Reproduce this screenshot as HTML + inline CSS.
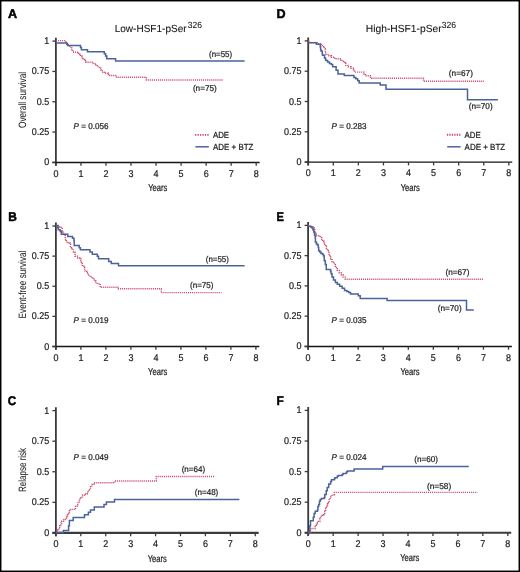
<!DOCTYPE html>
<html><head><meta charset="utf-8"><title>Figure</title>
<style>
html,body{margin:0;padding:0;background:#fff;}
body{width:520px;height:572px;overflow:hidden;}
svg{display:block;will-change:transform;}
text{font-family:"Liberation Sans", sans-serif;fill:#222;stroke:#222;stroke-width:0.22px;text-rendering:geometricPrecision;}
.tk{font-size:9.8px;}
.yr{font-size:10px;}
.pv{font-size:8.4px;}
.nl{font-size:8.4px;}
.pl{font-size:12.6px;font-weight:bold;fill:#000;stroke:#000;stroke-width:0.5px;}
.yl{font-size:10.6px;stroke-width:0.05px;}
.ti{font-size:10.3px;fill:#111;stroke-width:0.08px;}
.sup{font-size:9px;fill:#111;stroke-width:0.05px;}
.lg{font-size:8.8px;}
</style></head>
<body>
<svg width="520" height="572" viewBox="0 0 520 572">
<rect x="0" y="0" width="520" height="572" fill="#fff"/>
<line x1="55.9" y1="37.70" x2="55.9" y2="165.70" stroke="#3a3a3a" stroke-width="1.8"/>
<line x1="52.40" y1="162.4" x2="259.62" y2="162.4" stroke="#141414" stroke-width="1.45"/>
<line x1="52.40" y1="162.40" x2="55.9" y2="162.40" stroke="#3a3a3a" stroke-width="1.3"/>
<text x="49.20" y="165.40" text-anchor="end" class="tk" textLength="5.00" lengthAdjust="spacingAndGlyphs">0</text>
<line x1="52.40" y1="132.07" x2="55.9" y2="132.07" stroke="#3a3a3a" stroke-width="1.3"/>
<text x="49.20" y="135.07" text-anchor="end" class="tk" textLength="17.51" lengthAdjust="spacingAndGlyphs">0.25</text>
<line x1="52.40" y1="101.75" x2="55.9" y2="101.75" stroke="#3a3a3a" stroke-width="1.3"/>
<text x="49.20" y="104.75" text-anchor="end" class="tk" textLength="12.51" lengthAdjust="spacingAndGlyphs">0.5</text>
<line x1="52.40" y1="71.42" x2="55.9" y2="71.42" stroke="#3a3a3a" stroke-width="1.3"/>
<text x="49.20" y="74.42" text-anchor="end" class="tk" textLength="17.51" lengthAdjust="spacingAndGlyphs">0.75</text>
<line x1="52.40" y1="41.10" x2="55.9" y2="41.10" stroke="#3a3a3a" stroke-width="1.3"/>
<text x="49.20" y="44.10" text-anchor="end" class="tk" textLength="5.00" lengthAdjust="spacingAndGlyphs">1</text>
<line x1="55.90" y1="162.4" x2="55.90" y2="165.70" stroke="#3a3a3a" stroke-width="1.3"/>
<text x="55.90" y="176.60" text-anchor="middle" class="tk" textLength="5.00" lengthAdjust="spacingAndGlyphs">0</text>
<line x1="80.94" y1="162.4" x2="80.94" y2="165.70" stroke="#3a3a3a" stroke-width="1.3"/>
<text x="80.94" y="176.60" text-anchor="middle" class="tk" textLength="5.00" lengthAdjust="spacingAndGlyphs">1</text>
<line x1="105.98" y1="162.4" x2="105.98" y2="165.70" stroke="#3a3a3a" stroke-width="1.3"/>
<text x="105.98" y="176.60" text-anchor="middle" class="tk" textLength="5.00" lengthAdjust="spacingAndGlyphs">2</text>
<line x1="131.02" y1="162.4" x2="131.02" y2="165.70" stroke="#3a3a3a" stroke-width="1.3"/>
<text x="131.02" y="176.60" text-anchor="middle" class="tk" textLength="5.00" lengthAdjust="spacingAndGlyphs">3</text>
<line x1="156.06" y1="162.4" x2="156.06" y2="165.70" stroke="#3a3a3a" stroke-width="1.3"/>
<text x="156.06" y="176.60" text-anchor="middle" class="tk" textLength="5.00" lengthAdjust="spacingAndGlyphs">4</text>
<line x1="181.10" y1="162.4" x2="181.10" y2="165.70" stroke="#3a3a3a" stroke-width="1.3"/>
<text x="181.10" y="176.60" text-anchor="middle" class="tk" textLength="5.00" lengthAdjust="spacingAndGlyphs">5</text>
<line x1="206.14" y1="162.4" x2="206.14" y2="165.70" stroke="#3a3a3a" stroke-width="1.3"/>
<text x="206.14" y="176.60" text-anchor="middle" class="tk" textLength="5.00" lengthAdjust="spacingAndGlyphs">6</text>
<line x1="231.18" y1="162.4" x2="231.18" y2="165.70" stroke="#3a3a3a" stroke-width="1.3"/>
<text x="231.18" y="176.60" text-anchor="middle" class="tk" textLength="5.00" lengthAdjust="spacingAndGlyphs">7</text>
<line x1="256.22" y1="162.4" x2="256.22" y2="165.70" stroke="#3a3a3a" stroke-width="1.3"/>
<text x="256.22" y="176.60" text-anchor="middle" class="tk" textLength="5.00" lengthAdjust="spacingAndGlyphs">8</text>
<text x="157.81" y="191.00" text-anchor="middle" class="yr" textLength="19.2" lengthAdjust="spacingAndGlyphs">Years</text>
<line x1="55.9" y1="222.60" x2="55.9" y2="349.80" stroke="#3a3a3a" stroke-width="1.8"/>
<line x1="52.40" y1="346.5" x2="259.30" y2="346.5" stroke="#141414" stroke-width="1.45"/>
<line x1="52.40" y1="346.50" x2="55.9" y2="346.50" stroke="#3a3a3a" stroke-width="1.3"/>
<text x="49.20" y="349.50" text-anchor="end" class="tk" textLength="5.00" lengthAdjust="spacingAndGlyphs">0</text>
<line x1="52.40" y1="316.38" x2="55.9" y2="316.38" stroke="#3a3a3a" stroke-width="1.3"/>
<text x="49.20" y="319.38" text-anchor="end" class="tk" textLength="17.51" lengthAdjust="spacingAndGlyphs">0.25</text>
<line x1="52.40" y1="286.25" x2="55.9" y2="286.25" stroke="#3a3a3a" stroke-width="1.3"/>
<text x="49.20" y="289.25" text-anchor="end" class="tk" textLength="12.51" lengthAdjust="spacingAndGlyphs">0.5</text>
<line x1="52.40" y1="256.12" x2="55.9" y2="256.12" stroke="#3a3a3a" stroke-width="1.3"/>
<text x="49.20" y="259.12" text-anchor="end" class="tk" textLength="17.51" lengthAdjust="spacingAndGlyphs">0.75</text>
<line x1="52.40" y1="226.00" x2="55.9" y2="226.00" stroke="#3a3a3a" stroke-width="1.3"/>
<text x="49.20" y="229.00" text-anchor="end" class="tk" textLength="5.00" lengthAdjust="spacingAndGlyphs">1</text>
<line x1="55.90" y1="346.5" x2="55.90" y2="349.80" stroke="#3a3a3a" stroke-width="1.3"/>
<text x="55.90" y="360.70" text-anchor="middle" class="tk" textLength="5.00" lengthAdjust="spacingAndGlyphs">0</text>
<line x1="80.90" y1="346.5" x2="80.90" y2="349.80" stroke="#3a3a3a" stroke-width="1.3"/>
<text x="80.90" y="360.70" text-anchor="middle" class="tk" textLength="5.00" lengthAdjust="spacingAndGlyphs">1</text>
<line x1="105.90" y1="346.5" x2="105.90" y2="349.80" stroke="#3a3a3a" stroke-width="1.3"/>
<text x="105.90" y="360.70" text-anchor="middle" class="tk" textLength="5.00" lengthAdjust="spacingAndGlyphs">2</text>
<line x1="130.90" y1="346.5" x2="130.90" y2="349.80" stroke="#3a3a3a" stroke-width="1.3"/>
<text x="130.90" y="360.70" text-anchor="middle" class="tk" textLength="5.00" lengthAdjust="spacingAndGlyphs">3</text>
<line x1="155.90" y1="346.5" x2="155.90" y2="349.80" stroke="#3a3a3a" stroke-width="1.3"/>
<text x="155.90" y="360.70" text-anchor="middle" class="tk" textLength="5.00" lengthAdjust="spacingAndGlyphs">4</text>
<line x1="180.90" y1="346.5" x2="180.90" y2="349.80" stroke="#3a3a3a" stroke-width="1.3"/>
<text x="180.90" y="360.70" text-anchor="middle" class="tk" textLength="5.00" lengthAdjust="spacingAndGlyphs">5</text>
<line x1="205.90" y1="346.5" x2="205.90" y2="349.80" stroke="#3a3a3a" stroke-width="1.3"/>
<text x="205.90" y="360.70" text-anchor="middle" class="tk" textLength="5.00" lengthAdjust="spacingAndGlyphs">6</text>
<line x1="230.90" y1="346.5" x2="230.90" y2="349.80" stroke="#3a3a3a" stroke-width="1.3"/>
<text x="230.90" y="360.70" text-anchor="middle" class="tk" textLength="5.00" lengthAdjust="spacingAndGlyphs">7</text>
<line x1="255.90" y1="346.5" x2="255.90" y2="349.80" stroke="#3a3a3a" stroke-width="1.3"/>
<text x="255.90" y="360.70" text-anchor="middle" class="tk" textLength="5.00" lengthAdjust="spacingAndGlyphs">8</text>
<text x="157.65" y="375.10" text-anchor="middle" class="yr" textLength="19.2" lengthAdjust="spacingAndGlyphs">Years</text>
<line x1="55.9" y1="407.20" x2="55.9" y2="536.20" stroke="#3a3a3a" stroke-width="1.8"/>
<line x1="52.40" y1="532.9" x2="258.66" y2="532.9" stroke="#3c3c3c" stroke-width="2.1"/>
<line x1="52.40" y1="532.90" x2="55.9" y2="532.90" stroke="#3a3a3a" stroke-width="1.3"/>
<text x="49.20" y="535.90" text-anchor="end" class="tk" textLength="5.00" lengthAdjust="spacingAndGlyphs">0</text>
<line x1="52.40" y1="502.32" x2="55.9" y2="502.32" stroke="#3a3a3a" stroke-width="1.3"/>
<text x="49.20" y="505.32" text-anchor="end" class="tk" textLength="17.51" lengthAdjust="spacingAndGlyphs">0.25</text>
<line x1="52.40" y1="471.75" x2="55.9" y2="471.75" stroke="#3a3a3a" stroke-width="1.3"/>
<text x="49.20" y="474.75" text-anchor="end" class="tk" textLength="12.51" lengthAdjust="spacingAndGlyphs">0.5</text>
<line x1="52.40" y1="441.18" x2="55.9" y2="441.18" stroke="#3a3a3a" stroke-width="1.3"/>
<text x="49.20" y="444.18" text-anchor="end" class="tk" textLength="17.51" lengthAdjust="spacingAndGlyphs">0.75</text>
<line x1="52.40" y1="410.60" x2="55.9" y2="410.60" stroke="#3a3a3a" stroke-width="1.3"/>
<text x="49.20" y="413.60" text-anchor="end" class="tk" textLength="5.00" lengthAdjust="spacingAndGlyphs">1</text>
<line x1="55.90" y1="532.9" x2="55.90" y2="536.20" stroke="#3a3a3a" stroke-width="1.3"/>
<text x="55.90" y="547.10" text-anchor="middle" class="tk" textLength="5.00" lengthAdjust="spacingAndGlyphs">0</text>
<line x1="80.82" y1="532.9" x2="80.82" y2="536.20" stroke="#3a3a3a" stroke-width="1.3"/>
<text x="80.82" y="547.10" text-anchor="middle" class="tk" textLength="5.00" lengthAdjust="spacingAndGlyphs">1</text>
<line x1="105.74" y1="532.9" x2="105.74" y2="536.20" stroke="#3a3a3a" stroke-width="1.3"/>
<text x="105.74" y="547.10" text-anchor="middle" class="tk" textLength="5.00" lengthAdjust="spacingAndGlyphs">2</text>
<line x1="130.66" y1="532.9" x2="130.66" y2="536.20" stroke="#3a3a3a" stroke-width="1.3"/>
<text x="130.66" y="547.10" text-anchor="middle" class="tk" textLength="5.00" lengthAdjust="spacingAndGlyphs">3</text>
<line x1="155.58" y1="532.9" x2="155.58" y2="536.20" stroke="#3a3a3a" stroke-width="1.3"/>
<text x="155.58" y="547.10" text-anchor="middle" class="tk" textLength="5.00" lengthAdjust="spacingAndGlyphs">4</text>
<line x1="180.50" y1="532.9" x2="180.50" y2="536.20" stroke="#3a3a3a" stroke-width="1.3"/>
<text x="180.50" y="547.10" text-anchor="middle" class="tk" textLength="5.00" lengthAdjust="spacingAndGlyphs">5</text>
<line x1="205.42" y1="532.9" x2="205.42" y2="536.20" stroke="#3a3a3a" stroke-width="1.3"/>
<text x="205.42" y="547.10" text-anchor="middle" class="tk" textLength="5.00" lengthAdjust="spacingAndGlyphs">6</text>
<line x1="230.34" y1="532.9" x2="230.34" y2="536.20" stroke="#3a3a3a" stroke-width="1.3"/>
<text x="230.34" y="547.10" text-anchor="middle" class="tk" textLength="5.00" lengthAdjust="spacingAndGlyphs">7</text>
<line x1="255.26" y1="532.9" x2="255.26" y2="536.20" stroke="#3a3a3a" stroke-width="1.3"/>
<text x="255.26" y="547.10" text-anchor="middle" class="tk" textLength="5.00" lengthAdjust="spacingAndGlyphs">8</text>
<text x="157.32" y="561.50" text-anchor="middle" class="yr" textLength="19.2" lengthAdjust="spacingAndGlyphs">Years</text>
<line x1="308.2" y1="37.50" x2="308.2" y2="165.40" stroke="#3a3a3a" stroke-width="1.8"/>
<line x1="304.70" y1="162.1" x2="512.24" y2="162.1" stroke="#141414" stroke-width="1.45"/>
<line x1="304.70" y1="162.10" x2="308.2" y2="162.10" stroke="#3a3a3a" stroke-width="1.3"/>
<text x="301.50" y="165.10" text-anchor="end" class="tk" textLength="5.00" lengthAdjust="spacingAndGlyphs">0</text>
<line x1="304.70" y1="131.80" x2="308.2" y2="131.80" stroke="#3a3a3a" stroke-width="1.3"/>
<text x="301.50" y="134.80" text-anchor="end" class="tk" textLength="17.51" lengthAdjust="spacingAndGlyphs">0.25</text>
<line x1="304.70" y1="101.50" x2="308.2" y2="101.50" stroke="#3a3a3a" stroke-width="1.3"/>
<text x="301.50" y="104.50" text-anchor="end" class="tk" textLength="12.51" lengthAdjust="spacingAndGlyphs">0.5</text>
<line x1="304.70" y1="71.20" x2="308.2" y2="71.20" stroke="#3a3a3a" stroke-width="1.3"/>
<text x="301.50" y="74.20" text-anchor="end" class="tk" textLength="17.51" lengthAdjust="spacingAndGlyphs">0.75</text>
<line x1="304.70" y1="40.90" x2="308.2" y2="40.90" stroke="#3a3a3a" stroke-width="1.3"/>
<text x="301.50" y="43.90" text-anchor="end" class="tk" textLength="5.00" lengthAdjust="spacingAndGlyphs">1</text>
<line x1="308.20" y1="162.1" x2="308.20" y2="165.40" stroke="#3a3a3a" stroke-width="1.3"/>
<text x="308.20" y="176.30" text-anchor="middle" class="tk" textLength="5.00" lengthAdjust="spacingAndGlyphs">0</text>
<line x1="333.28" y1="162.1" x2="333.28" y2="165.40" stroke="#3a3a3a" stroke-width="1.3"/>
<text x="333.28" y="176.30" text-anchor="middle" class="tk" textLength="5.00" lengthAdjust="spacingAndGlyphs">1</text>
<line x1="358.36" y1="162.1" x2="358.36" y2="165.40" stroke="#3a3a3a" stroke-width="1.3"/>
<text x="358.36" y="176.30" text-anchor="middle" class="tk" textLength="5.00" lengthAdjust="spacingAndGlyphs">2</text>
<line x1="383.44" y1="162.1" x2="383.44" y2="165.40" stroke="#3a3a3a" stroke-width="1.3"/>
<text x="383.44" y="176.30" text-anchor="middle" class="tk" textLength="5.00" lengthAdjust="spacingAndGlyphs">3</text>
<line x1="408.52" y1="162.1" x2="408.52" y2="165.40" stroke="#3a3a3a" stroke-width="1.3"/>
<text x="408.52" y="176.30" text-anchor="middle" class="tk" textLength="5.00" lengthAdjust="spacingAndGlyphs">4</text>
<line x1="433.60" y1="162.1" x2="433.60" y2="165.40" stroke="#3a3a3a" stroke-width="1.3"/>
<text x="433.60" y="176.30" text-anchor="middle" class="tk" textLength="5.00" lengthAdjust="spacingAndGlyphs">5</text>
<line x1="458.68" y1="162.1" x2="458.68" y2="165.40" stroke="#3a3a3a" stroke-width="1.3"/>
<text x="458.68" y="176.30" text-anchor="middle" class="tk" textLength="5.00" lengthAdjust="spacingAndGlyphs">6</text>
<line x1="483.76" y1="162.1" x2="483.76" y2="165.40" stroke="#3a3a3a" stroke-width="1.3"/>
<text x="483.76" y="176.30" text-anchor="middle" class="tk" textLength="5.00" lengthAdjust="spacingAndGlyphs">7</text>
<line x1="508.84" y1="162.1" x2="508.84" y2="165.40" stroke="#3a3a3a" stroke-width="1.3"/>
<text x="508.84" y="176.30" text-anchor="middle" class="tk" textLength="5.00" lengthAdjust="spacingAndGlyphs">8</text>
<text x="410.28" y="190.70" text-anchor="middle" class="yr" textLength="19.2" lengthAdjust="spacingAndGlyphs">Years</text>
<line x1="308.1" y1="222.00" x2="308.1" y2="349.70" stroke="#3a3a3a" stroke-width="1.8"/>
<line x1="304.60" y1="346.4" x2="511.90" y2="346.4" stroke="#141414" stroke-width="1.45"/>
<line x1="304.60" y1="346.40" x2="308.1" y2="346.40" stroke="#3a3a3a" stroke-width="1.3"/>
<text x="301.40" y="349.40" text-anchor="end" class="tk" textLength="5.00" lengthAdjust="spacingAndGlyphs">0</text>
<line x1="304.60" y1="316.15" x2="308.1" y2="316.15" stroke="#3a3a3a" stroke-width="1.3"/>
<text x="301.40" y="319.15" text-anchor="end" class="tk" textLength="17.51" lengthAdjust="spacingAndGlyphs">0.25</text>
<line x1="304.60" y1="285.90" x2="308.1" y2="285.90" stroke="#3a3a3a" stroke-width="1.3"/>
<text x="301.40" y="288.90" text-anchor="end" class="tk" textLength="12.51" lengthAdjust="spacingAndGlyphs">0.5</text>
<line x1="304.60" y1="255.65" x2="308.1" y2="255.65" stroke="#3a3a3a" stroke-width="1.3"/>
<text x="301.40" y="258.65" text-anchor="end" class="tk" textLength="17.51" lengthAdjust="spacingAndGlyphs">0.75</text>
<line x1="304.60" y1="225.40" x2="308.1" y2="225.40" stroke="#3a3a3a" stroke-width="1.3"/>
<text x="301.40" y="228.40" text-anchor="end" class="tk" textLength="5.00" lengthAdjust="spacingAndGlyphs">1</text>
<line x1="308.10" y1="346.4" x2="308.10" y2="349.70" stroke="#3a3a3a" stroke-width="1.3"/>
<text x="308.10" y="360.60" text-anchor="middle" class="tk" textLength="5.00" lengthAdjust="spacingAndGlyphs">0</text>
<line x1="333.15" y1="346.4" x2="333.15" y2="349.70" stroke="#3a3a3a" stroke-width="1.3"/>
<text x="333.15" y="360.60" text-anchor="middle" class="tk" textLength="5.00" lengthAdjust="spacingAndGlyphs">1</text>
<line x1="358.20" y1="346.4" x2="358.20" y2="349.70" stroke="#3a3a3a" stroke-width="1.3"/>
<text x="358.20" y="360.60" text-anchor="middle" class="tk" textLength="5.00" lengthAdjust="spacingAndGlyphs">2</text>
<line x1="383.25" y1="346.4" x2="383.25" y2="349.70" stroke="#3a3a3a" stroke-width="1.3"/>
<text x="383.25" y="360.60" text-anchor="middle" class="tk" textLength="5.00" lengthAdjust="spacingAndGlyphs">3</text>
<line x1="408.30" y1="346.4" x2="408.30" y2="349.70" stroke="#3a3a3a" stroke-width="1.3"/>
<text x="408.30" y="360.60" text-anchor="middle" class="tk" textLength="5.00" lengthAdjust="spacingAndGlyphs">4</text>
<line x1="433.35" y1="346.4" x2="433.35" y2="349.70" stroke="#3a3a3a" stroke-width="1.3"/>
<text x="433.35" y="360.60" text-anchor="middle" class="tk" textLength="5.00" lengthAdjust="spacingAndGlyphs">5</text>
<line x1="458.40" y1="346.4" x2="458.40" y2="349.70" stroke="#3a3a3a" stroke-width="1.3"/>
<text x="458.40" y="360.60" text-anchor="middle" class="tk" textLength="5.00" lengthAdjust="spacingAndGlyphs">6</text>
<line x1="483.45" y1="346.4" x2="483.45" y2="349.70" stroke="#3a3a3a" stroke-width="1.3"/>
<text x="483.45" y="360.60" text-anchor="middle" class="tk" textLength="5.00" lengthAdjust="spacingAndGlyphs">7</text>
<line x1="508.50" y1="346.4" x2="508.50" y2="349.70" stroke="#3a3a3a" stroke-width="1.3"/>
<text x="508.50" y="360.60" text-anchor="middle" class="tk" textLength="5.00" lengthAdjust="spacingAndGlyphs">8</text>
<text x="410.05" y="375.00" text-anchor="middle" class="yr" textLength="19.2" lengthAdjust="spacingAndGlyphs">Years</text>
<line x1="308.2" y1="407.00" x2="308.2" y2="536.10" stroke="#3a3a3a" stroke-width="1.8"/>
<line x1="304.70" y1="532.8" x2="511.20" y2="532.8" stroke="#3c3c3c" stroke-width="2.1"/>
<line x1="304.70" y1="532.80" x2="308.2" y2="532.80" stroke="#3a3a3a" stroke-width="1.3"/>
<text x="301.50" y="535.80" text-anchor="end" class="tk" textLength="5.00" lengthAdjust="spacingAndGlyphs">0</text>
<line x1="304.70" y1="502.20" x2="308.2" y2="502.20" stroke="#3a3a3a" stroke-width="1.3"/>
<text x="301.50" y="505.20" text-anchor="end" class="tk" textLength="17.51" lengthAdjust="spacingAndGlyphs">0.25</text>
<line x1="304.70" y1="471.60" x2="308.2" y2="471.60" stroke="#3a3a3a" stroke-width="1.3"/>
<text x="301.50" y="474.60" text-anchor="end" class="tk" textLength="12.51" lengthAdjust="spacingAndGlyphs">0.5</text>
<line x1="304.70" y1="441.00" x2="308.2" y2="441.00" stroke="#3a3a3a" stroke-width="1.3"/>
<text x="301.50" y="444.00" text-anchor="end" class="tk" textLength="17.51" lengthAdjust="spacingAndGlyphs">0.75</text>
<line x1="304.70" y1="410.40" x2="308.2" y2="410.40" stroke="#3a3a3a" stroke-width="1.3"/>
<text x="301.50" y="413.40" text-anchor="end" class="tk" textLength="5.00" lengthAdjust="spacingAndGlyphs">1</text>
<line x1="308.20" y1="532.8" x2="308.20" y2="536.10" stroke="#3a3a3a" stroke-width="1.3"/>
<text x="308.20" y="547.00" text-anchor="middle" class="tk" textLength="5.00" lengthAdjust="spacingAndGlyphs">0</text>
<line x1="333.15" y1="532.8" x2="333.15" y2="536.10" stroke="#3a3a3a" stroke-width="1.3"/>
<text x="333.15" y="547.00" text-anchor="middle" class="tk" textLength="5.00" lengthAdjust="spacingAndGlyphs">1</text>
<line x1="358.10" y1="532.8" x2="358.10" y2="536.10" stroke="#3a3a3a" stroke-width="1.3"/>
<text x="358.10" y="547.00" text-anchor="middle" class="tk" textLength="5.00" lengthAdjust="spacingAndGlyphs">2</text>
<line x1="383.05" y1="532.8" x2="383.05" y2="536.10" stroke="#3a3a3a" stroke-width="1.3"/>
<text x="383.05" y="547.00" text-anchor="middle" class="tk" textLength="5.00" lengthAdjust="spacingAndGlyphs">3</text>
<line x1="408.00" y1="532.8" x2="408.00" y2="536.10" stroke="#3a3a3a" stroke-width="1.3"/>
<text x="408.00" y="547.00" text-anchor="middle" class="tk" textLength="5.00" lengthAdjust="spacingAndGlyphs">4</text>
<line x1="432.95" y1="532.8" x2="432.95" y2="536.10" stroke="#3a3a3a" stroke-width="1.3"/>
<text x="432.95" y="547.00" text-anchor="middle" class="tk" textLength="5.00" lengthAdjust="spacingAndGlyphs">5</text>
<line x1="457.90" y1="532.8" x2="457.90" y2="536.10" stroke="#3a3a3a" stroke-width="1.3"/>
<text x="457.90" y="547.00" text-anchor="middle" class="tk" textLength="5.00" lengthAdjust="spacingAndGlyphs">6</text>
<line x1="482.85" y1="532.8" x2="482.85" y2="536.10" stroke="#3a3a3a" stroke-width="1.3"/>
<text x="482.85" y="547.00" text-anchor="middle" class="tk" textLength="5.00" lengthAdjust="spacingAndGlyphs">7</text>
<line x1="507.80" y1="532.8" x2="507.80" y2="536.10" stroke="#3a3a3a" stroke-width="1.3"/>
<text x="507.80" y="547.00" text-anchor="middle" class="tk" textLength="5.00" lengthAdjust="spacingAndGlyphs">8</text>
<text x="409.75" y="561.40" text-anchor="middle" class="yr" textLength="19.2" lengthAdjust="spacingAndGlyphs">Years</text>
<path d="M55.9,40.6 H65.6 V42.5 H66.4 V43.7 H67.5 V45 H69.5 V46 H70.6 V47.9 H71.8 V49.8 H72.9 V52.2 H78.3 V53.3 H79.8 V54.5 H80.6 V56.2 H82.2 V57.9 H83.3 V59.1 H84.6 V60.8 H85.6 V62.3 H93.3 V63.5 H95.6 V64.8 H97.2 V66.6 H99.5 V67.9 H100.6 V69.8 H102.2 V72.2 H104.5 V73.3 H108.3 V74.5 H109.8 V75.5 H116.4 V77.3 H146.3 V80 H223" fill="none" stroke="#cf4a6b" stroke-width="1.4" stroke-dasharray="1.1 0.95"/>
<path d="M55.9,43.1 H66.8 V44.3 H67.5 V45.4 H80.5 V47.5 H81.4 V49.7 H87.5 V51.8 H104.3 V53.7 H105.6 V56 H106.8 V58.7 H115.6 V61 H244.6" fill="none" stroke="#4b6399" stroke-width="1.5"/>
<path d="M55.9,225.8 H59.5 V227.2 H60.9 V228.2 H62 V230.5 H62.8 V232 H63.5 V234.5 H65.2 V237.4 H65.5 V239.7 H66.3 V242 H68.2 V242.8 H69.8 V244.3 H70.5 V246.6 H71.5 V247.7 H72.1 V248.9 H73.5 V252.3 H75 V256.2 H77.7 V258 H79.6 V258.5 H80.8 V261.5 H81.4 V263.7 H82.3 V266.2 H83.8 V267.5 H84.8 V270.9 H86.7 V272.8 H88.2 V275.4 H90.1 V276.9 H92.5 V278.6 H94.4 V281 H95.9 V283.4 H97.8 V283.8 H100.2 V287.2 H118 V288.8 H161.2 V292.6 H221.5" fill="none" stroke="#cf4a6b" stroke-width="1.4" stroke-dasharray="1.1 0.95"/>
<path d="M55.9,225.5 H57.8 V227.4 H58.2 V229.7 H60.2 V231.6 H61.3 V234.3 H67.8 V236.6 H72.5 V238.2 H74 V240.5 H74.2 V245.4 H79.2 V247.7 H80.4 V249.8 H90 V251.9 H92.3 V254.2 H97.3 V256.2 H98.5 V258.8 H108.7 V261.5 H111.25 V263.5 H118.5 V265.7 H244.6" fill="none" stroke="#4b6399" stroke-width="1.5"/>
<path d="M55.9,532.6 H57 V530.5 H57.8 V529.6 H59 V527.5 H59.8 V525.8 H61 V523 H61.7 V521.2 H63.6 V519.6 H65.5 V518.1 H66.5 V516.5 H67.5 V514.6 H68.5 V512.5 H69.4 V510.8 H70.5 V509.4 H75.5 V506.5 H77 V504.6 H77.8 V501.9 H79.4 V498.8 H80.9 V496.9 H82.6 V495 H84.7 V494 H87.1 V492.1 H88.6 V489.7 H90.5 V486.8 H91.9 V484.4 H93.9 V482.7 H114.5 V481 H156.3 V476.5 H215" fill="none" stroke="#cf4a6b" stroke-width="1.4" stroke-dasharray="1.1 0.95"/>
<path d="M55.9,532.6 H63.4 V530.4 H68.6 V525.8 H69.4 V520.4 H73.2 V517.5 H84.5 V514.7 H88.4 V512.3 H90.5 V509.9 H94.3 V507 H104 V504.6 H106.4 V501.9 H114.5 V499.4 H239.4" fill="none" stroke="#4b6399" stroke-width="1.5"/>
<path d="M308.2,41 H309.5 V42.6 H317.2 V43.7 H321 V44.5 H322.5 V45.6 H323.7 V46.8 H324.5 V48.7 H325.2 V51.4 H325.6 V53.7 H326 V54.5 H328.9 V55.8 H331.3 V57.2 H334.7 V58.7 H340.9 V60.1 H342.3 V61.5 H344.75 V63 H345.7 V65.4 H348.1 V66.8 H351 V68.3 H353.4 V69.7 H354.4 V72.1 H364 V74 H365.4 V75.8 H370.4 V77.4 H371.7 V78.3 H423.5 V81.2 H484" fill="none" stroke="#cf4a6b" stroke-width="1.4" stroke-dasharray="1.1 0.95"/>
<path d="M308.2,42.8 H316.4 V44.3 H320.2 V46.8 H320.6 V49.5 H321 V51 H322.2 V53.7 H322.5 V55.2 H324.5 V57.9 H325.6 V60.2 H326.4 V60.5 H327.6 V62 H329.4 V63.5 H331.3 V64.6 H332.7 V66.8 H336.1 V70.2 H338 V74 H344.3 V75.5 H353.9 V77.4 H355.8 V78.8 H357.7 V80.8 H359.2 V83.1 H380.2 V85 H386 V89.2 H467.5 V99.8 H497.9" fill="none" stroke="#4b6399" stroke-width="1.5"/>
<path d="M308.1,225.5 H309.8 V226.5 H311 V227 H313.3 V227.8 H314.1 V229.7 H314.8 V231.6 H315.6 V233.5 H316.4 V235.8 H320.2 V237.4 H321.8 V239.3 H322.5 V241.2 H324.1 V242.8 H324.8 V244.3 H325.6 V246.2 H326.4 V248.5 H327.5 V250.5 H328.3 V252.4 H329.1 V254.3 H329.8 V256.2 H330.6 V258.8 H332 V262.2 H334.4 V264.6 H335.4 V267.5 H337.3 V270.4 H339.2 V272.8 H341.2 V274.7 H343.1 V277.1 H345.2 V279.3 H483.1" fill="none" stroke="#cf4a6b" stroke-width="1.4" stroke-dasharray="1.1 0.95"/>
<path d="M308.1,226.2 H311 V227 H312.2 V228.2 H312.9 V229.7 H313.7 V232 H314.5 V235.1 H315.2 V237.4 H315.4 V242 H316.4 V243.9 H317.5 V245.1 H318.3 V247.4 H318.7 V250.8 H319.8 V252 H321 V253.5 H322.5 V254.3 H323.4 V255.8 H324.2 V258.2 H324.3 V260.8 H325.3 V264.6 H326.25 V269.4 H330.6 V271.5 H331.1 V273.75 H332 V277.1 H333.5 V280 H335.4 V282.4 H337.3 V284.3 H339.7 V286.25 H342.1 V288.2 H344.5 V290.4 H346.9 V291.5 H348.8 V292.5 H350.5 V294 H358.3 V295.8 H360.2 V298.5 H387.1 V300.4 H466.5 V310 H473.8" fill="none" stroke="#4b6399" stroke-width="1.5"/>
<path d="M308.2,532.5 H310.6 V529.6 H311 V528.5 H315.2 V526.5 H316 V524.6 H316.8 V522.7 H318.3 V521.5 H319.8 V518.5 H320.6 V516.2 H322.5 V515 H323.7 V513.5 H324.8 V511.2 H325.6 V508.5 H326.4 V505.8 H327.5 V503.8 H328.3 V502.3 H329.1 V499.6 H330.1 V497 H331.5 V495.1 H334.4 V492.4 H477.5" fill="none" stroke="#cf4a6b" stroke-width="1.4" stroke-dasharray="1.1 0.95"/>
<path d="M308.2,532.5 H309.8 V525.8 H310.5 V520.8 H313.3 V517.3 H314.1 V513.5 H315.2 V511.2 H317.5 V510 H317.9 V506.5 H318.7 V504.6 H319.5 V501.2 H320.2 V499.6 H321.4 V498.5 H324.3 V497.5 H324.8 V494.6 H326.25 V490.8 H327.2 V487.4 H328.7 V484 H330.6 V481.6 H331.5 V479.7 H334.4 V478.75 H334.9 V477.8 H337.3 V476.3 H338.3 V475.6 H342.1 V474.4 H343.1 V473.5 H346.4 V472 H347.4 V471.1 H354.1 V469 H382.7 V466.5 H468.8" fill="none" stroke="#4b6399" stroke-width="1.5"/>
<text x="8.1" y="18.3" class="pl" textLength="9.10" lengthAdjust="spacingAndGlyphs">A</text>
<text x="8.3" y="221.2" class="pl" textLength="8.64" lengthAdjust="spacingAndGlyphs">B</text>
<text x="7.8" y="405.2" class="pl" textLength="8.37" lengthAdjust="spacingAndGlyphs">C</text>
<text x="276.5" y="18.2" class="pl" textLength="9.10" lengthAdjust="spacingAndGlyphs">D</text>
<text x="276.5" y="221.3" class="pl" textLength="7.40" lengthAdjust="spacingAndGlyphs">E</text>
<text x="276.5" y="405.4" class="pl" textLength="7.24" lengthAdjust="spacingAndGlyphs">F</text>
<text x="114.7" y="31.5" class="ti" textLength="71.9" lengthAdjust="spacingAndGlyphs">Low-HSF1-pSer</text>
<text x="187.7" y="28.30" class="sup" textLength="14.2" lengthAdjust="spacingAndGlyphs">326</text>
<text x="365.8" y="31.5" class="ti" textLength="75.9" lengthAdjust="spacingAndGlyphs">High-HSF1-pSer</text>
<text x="441.7" y="28.30" class="sup" textLength="14.4" lengthAdjust="spacingAndGlyphs">326</text>
<text transform="translate(25.6 99.9) rotate(-90)" text-anchor="middle" class="yl" textLength="56.0" lengthAdjust="spacingAndGlyphs">Overall survival</text>
<text transform="translate(25.6 284.5) rotate(-90)" text-anchor="middle" class="yl" textLength="67.8" lengthAdjust="spacingAndGlyphs">Event-free survival</text>
<text transform="translate(25.6 469.9) rotate(-90)" text-anchor="middle" class="yl" textLength="44.0" lengthAdjust="spacingAndGlyphs">Relapse risk</text>
<text x="73.5" y="129.0" class="pv" textLength="34.9" lengthAdjust="spacingAndGlyphs"><tspan font-style="italic">P</tspan> = 0.056</text>
<text x="73.5" y="322.7" class="pv" textLength="34.9" lengthAdjust="spacingAndGlyphs"><tspan font-style="italic">P</tspan> = 0.019</text>
<text x="73.5" y="459.8" class="pv" textLength="34.9" lengthAdjust="spacingAndGlyphs"><tspan font-style="italic">P</tspan> = 0.049</text>
<text x="331.5" y="128.7" class="pv" textLength="34.9" lengthAdjust="spacingAndGlyphs"><tspan font-style="italic">P</tspan> = 0.283</text>
<text x="331.5" y="322.7" class="pv" textLength="34.9" lengthAdjust="spacingAndGlyphs"><tspan font-style="italic">P</tspan> = 0.035</text>
<text x="331.5" y="459.8" class="pv" textLength="34.9" lengthAdjust="spacingAndGlyphs"><tspan font-style="italic">P</tspan> = 0.024</text>
<line x1="195.1" y1="134.90" x2="209.00" y2="134.90" stroke="#cf4a6b" stroke-width="1.9" stroke-dasharray="1.3 1.15"/>
<line x1="195.40" y1="146.80" x2="208.80" y2="146.80" stroke="#4b6399" stroke-width="1.5"/>
<text x="212.9" y="137.8" class="lg" textLength="16.2" lengthAdjust="spacingAndGlyphs">ADE</text>
<text x="212.9" y="149.9" class="lg" textLength="40.6" lengthAdjust="spacingAndGlyphs">ADE + BTZ</text>
<line x1="446.9" y1="134.80" x2="460.80" y2="134.80" stroke="#cf4a6b" stroke-width="1.9" stroke-dasharray="1.3 1.15"/>
<line x1="447.20" y1="146.80" x2="460.60" y2="146.80" stroke="#4b6399" stroke-width="1.5"/>
<text x="464.6" y="137.7" class="lg" textLength="16.2" lengthAdjust="spacingAndGlyphs">ADE</text>
<text x="464.6" y="149.9" class="lg" textLength="40.6" lengthAdjust="spacingAndGlyphs">ADE + BTZ</text>
<text x="209.0" y="57.40" class="nl" textLength="23.1" lengthAdjust="spacingAndGlyphs">(n=55)</text>
<text x="192.9" y="91.10" class="nl" textLength="23.9" lengthAdjust="spacingAndGlyphs">(n=75)</text>
<text x="205.8" y="262.00" class="nl" textLength="23.0" lengthAdjust="spacingAndGlyphs">(n=55)</text>
<text x="190.0" y="288.30" class="nl" textLength="23.5" lengthAdjust="spacingAndGlyphs">(n=75)</text>
<text x="181.7" y="472.00" class="nl" textLength="23.5" lengthAdjust="spacingAndGlyphs">(n=64)</text>
<text x="194.8" y="494.90" class="nl" textLength="23.5" lengthAdjust="spacingAndGlyphs">(n=48)</text>
<text x="448.8" y="75.80" class="nl" textLength="24.1" lengthAdjust="spacingAndGlyphs">(n=67)</text>
<text x="468.7" y="109.30" class="nl" textLength="24.0" lengthAdjust="spacingAndGlyphs">(n=70)</text>
<text x="445.4" y="275.20" class="nl" textLength="24.0" lengthAdjust="spacingAndGlyphs">(n=67)</text>
<text x="437.7" y="311.20" class="nl" textLength="24.0" lengthAdjust="spacingAndGlyphs">(n=70)</text>
<text x="414.3" y="462.00" class="nl" textLength="23.8" lengthAdjust="spacingAndGlyphs">(n=60)</text>
<text x="427.0" y="489.00" class="nl" textLength="24.2" lengthAdjust="spacingAndGlyphs">(n=58)</text>
<rect x="0" y="0" width="520" height="572" fill="none" stroke="#000" stroke-width="2.9"/>
</svg>
</body></html>
